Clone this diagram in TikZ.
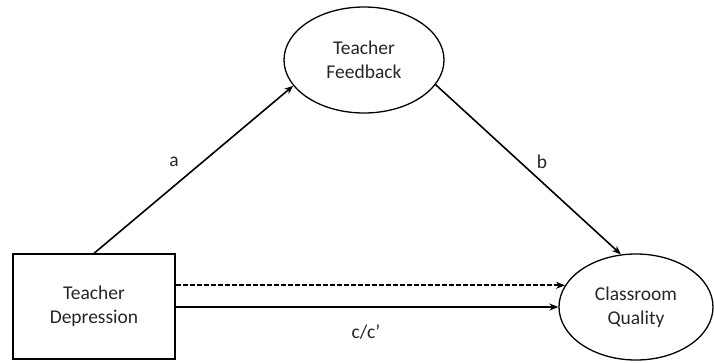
\documentclass[tikz,border=0pt]{standalone}
\usepackage{fontspec}
\setmainfont{Carlito}
\usetikzlibrary{shapes.geometric,arrows.meta}
\begin{document}
\begin{tikzpicture}[x=1pt,y=-1pt,
  lbl/.style={font=\fontsize{19.5}{24}\selectfont, text=black!85},
  ell/.style={draw, ellipse, line width=1.3pt, inner sep=0pt, align=center, lbl},
  boxn/.style={draw, rectangle, line width=1.3pt, inner sep=0pt, align=center, lbl},
  arr/.style={line width=1.6pt, -{Stealth[length=9pt,width=7pt]}}]
\useasboundingbox (0,0) rectangle (714,362);
\node[boxn, minimum width=162pt, minimum height=105pt] (td) at (94,306.5) {Teacher\\Depression};
\node[ell, minimum width=160pt, minimum height=106pt] (fb) at (364,60) {Teacher\\Feedback};
\node[ell, minimum width=154pt, minimum height=106pt] (cq) at (636,307) {Classroom\\Quality};
\draw[arr] (td.north) -- (fb.200);
\draw[arr] (fb.-19) -- (cq.106);
\draw[arr, dashed, dash pattern=on 5pt off 2pt] (td.east |- cq.163.5) -- (cq.163.5);
\draw[arr] (td.east |- cq.west) -- (cq.west);
\node[lbl] (la) at (174,162) {a};
\node[lbl] (lb) at (542,162) {b};
\node[lbl] (lc) at (366,332) {c/c’};
\end{tikzpicture}
\end{document}
